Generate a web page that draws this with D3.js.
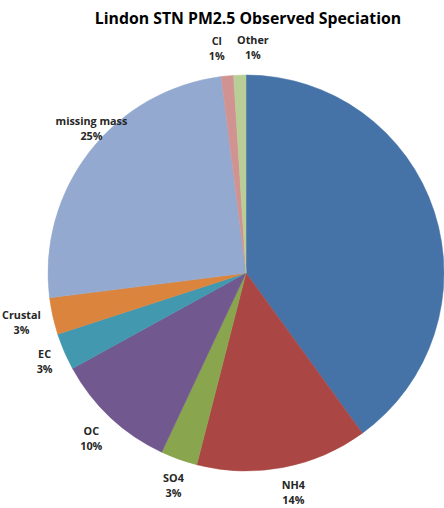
<!DOCTYPE html>
<html>
<head>
<meta charset="utf-8">
<script src="https://cdn.jsdelivr.net/npm/d3@7/dist/d3.min.js"></script>
<style>
  html, body { margin: 0; padding: 0; background: #fff; }
  svg { display: block; }
</style>
</head>
<body>
<script>
// Species, in drawing order (clockwise from 12 o'clock)
const species = ["NO3", "NH4", "SO4", "OC", "EC", "Crustal", "missing mass", "Cl", "Other"];
// Percent of observed PM2.5 mass
const shares = [40, 14, 3, 10, 3, 3, 25, 1, 1];
// Whether a slice carries a data label
const labelled = [false, true, true, true, true, true, true, true, true];
// Fill colours
const fills = ["#4572A7", "#AA4643", "#89A54E", "#71588F", "#4198AF", "#DB843D", "#93A9CF", "#D19392", "#B9CD96"];

const W = 444, H = 508;
const cx = 246, cy = 273, R = 198;

// Label placement: distance from centre and small nudges
const labelRadius = 226;
const nudge = {
  "NH4": [5, -3], "SO4": [4, -1], "OC": [0, 0], "EC": [6, -2],
  "Crustal": [-4, 0], "missing mass": [24, -6], "Cl": [-8, 0], "Other": [14, 0]
};

const svg = d3.select("body").append("svg")
  .attr("width", W).attr("height", H);

svg.append("text")
  .attr("x", 248).attr("y", 24)
  .attr("text-anchor", "middle")
  .style("font-family", "'Open Sans', 'Noto Sans', sans-serif")
  .style("font-weight", 700)
  .style("font-size", "15.8px")
  .style("fill", "#000")
  .text("Lindon STN PM2.5 Observed Speciation");

const data = species.map((s, i) => ({ name: s, value: shares[i], color: fills[i], label: labelled[i] }));

const pie = d3.pie().value(d => d.value).sort(null);
const arc = d3.arc().innerRadius(0).outerRadius(R);
const arcs = pie(data);

const g = svg.append("g").attr("transform", `translate(${cx},${cy})`);

g.selectAll("path.slice")
  .data(arcs)
  .join("path")
  .attr("class", "slice")
  .attr("d", arc)
  .attr("fill", d => d.data.color)
  .attr("stroke", d => d.data.color)
  .attr("stroke-width", 0.5);

const lbl = g.selectAll("g.lbl")
  .data(arcs.filter(d => d.data.label))
  .join("g")
  .attr("class", "lbl")
  .attr("transform", d => {
    const a = (d.startAngle + d.endAngle) / 2;
    const n = nudge[d.data.name] || [0, 0];
    const x = Math.sin(a) * labelRadius + n[0];
    const y = -Math.cos(a) * labelRadius + n[1];
    return `translate(${x},${y})`;
  });

lbl.append("text")
  .attr("text-anchor", "middle")
  .style("font-family", "'Open Sans', 'Noto Sans', sans-serif")
  .style("font-weight", 700)
  .style("font-size", "10.8px")
  .style("fill", "#262626")
  .selectAll("tspan")
  .data(d => [d.data.name, d3.format(".0f")(d.data.value) + "%"])
  .join("tspan")
  .attr("x", 0)
  .attr("y", (t, i) => i === 0 ? -3 : 12)
  .text(t => t);
</script>
</body>
</html>
